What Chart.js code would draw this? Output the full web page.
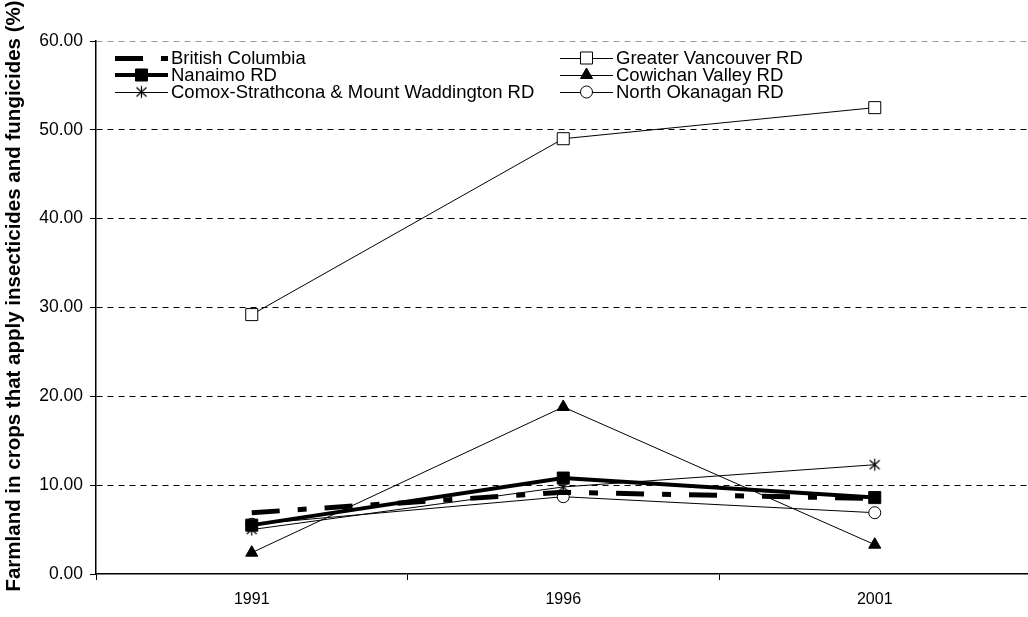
<!DOCTYPE html>
<html>
<head>
<meta charset="utf-8">
<script src="https://cdn.jsdelivr.net/npm/chart.js@4/dist/chart.umd.min.js"></script>
<style>
  html, body { margin: 0; padding: 0; background: #fff; overflow: hidden; }
  #wrap { width: 1040px; height: 617px; }
</style>
</head>
<body>
<div id="wrap"><canvas id="chart" width="1040" height="617"></canvas></div>
<script>
const years = ['1991', '1996', '2001']
const britishColumbia = [6.9, 9.2, 8.5]
const greaterVancouver = [29.2, 49.0, 52.5]
const nanaimo = [5.5, 10.8, 8.6]
const cowichanValley = [2.4, 18.8, 3.3]
const comoxStrathcona = [5.0, 9.8, 12.3]
const northOkanagan = [5.6, 8.7, 6.9]
const yTicks = [0, 10, 20, 30, 40, 50, 60]
const yTitle = 'Farmland in crops that apply insecticides and fungicides (%)'

const FONT = "'Liberation Sans', Arial, sans-serif"

// Excel style asterisk marker (x plus vertical bar)
function makeStar() {
  const c = document.createElement('canvas')
  c.width = 15; c.height = 15
  const g = c.getContext('2d')
  g.strokeStyle = '#000'
  g.lineWidth = 1.2
  g.beginPath()
  g.moveTo(2.5, 3); g.lineTo(12.5, 12)
  g.moveTo(12.5, 3); g.lineTo(2.5, 12)
  g.moveTo(7.5, 1.5); g.lineTo(7.5, 13.5)
  g.stroke()
  return c
}
const star = makeStar()

const thin = { borderColor: '#000', borderWidth: 1, pointBorderColor: '#000', pointBorderWidth: 1, tension: 0 }

const datasets = [
  { label: 'British Columbia', data: britishColumbia, borderColor: '#000', borderWidth: 5,
    borderDash: [28, 18, 9, 18], borderCapStyle: 'butt', pointRadius: 0, tension: 0 },
  { label: 'Greater Vancouver RD', data: greaterVancouver, ...thin,
    pointStyle: 'rect', pointRadius: 8.5, pointBackgroundColor: '#fff' },
  { label: 'Nanaimo RD', data: nanaimo, borderColor: '#000', borderWidth: 4, tension: 0,
    pointStyle: 'rect', pointRadius: 8.5, pointBackgroundColor: '#000', pointBorderColor: '#000', pointBorderWidth: 1 },
  { label: 'Cowichan Valley RD', data: cowichanValley, ...thin,
    pointStyle: 'triangle', pointRadius: 7, pointBackgroundColor: '#000' },
  { label: 'Comox-Strathcona & Mount Waddington RD', data: comoxStrathcona, ...thin,
    pointStyle: star, pointRadius: 7, pointBackgroundColor: '#000' },
  { label: 'North Okanagan RD', data: northOkanagan, ...thin,
    pointStyle: 'circle', pointRadius: 6, pointBackgroundColor: '#fff' },
]

// two column legend like the spreadsheet one
const legendPlugin = {
  id: 'sheetLegend',
  afterDatasetsDraw(chart) {
    const ctx = chart.ctx
    const cols = [115, 560]
    const rows = [58, 75, 92]
    const symW = 53
    chart.data.datasets.forEach((ds, i) => {
      const x = cols[i % 2]
      const y = rows[Math.floor(i / 2)]
      ctx.save()
      ctx.strokeStyle = ds.borderColor
      ctx.lineWidth = ds.borderWidth
      ctx.lineCap = 'butt'
      ctx.setLineDash(ds.borderDash || [])
      ctx.beginPath()
      ctx.moveTo(x, y + (ds.borderWidth % 2 ? 0.5 : 0))
      ctx.lineTo(x + symW, y + (ds.borderWidth % 2 ? 0.5 : 0))
      ctx.stroke()
      ctx.setLineDash([])
      if (ds.pointRadius > 0) {
        ctx.fillStyle = ds.pointBackgroundColor
        ctx.strokeStyle = ds.pointBorderColor
        ctx.lineWidth = ds.pointBorderWidth
        Chart.helpers.drawPoint(ctx, {
          pointStyle: ds.pointStyle, radius: ds.pointRadius, rotation: 0, borderWidth: ds.pointBorderWidth
        }, x + symW / 2, y)
      }
      ctx.fillStyle = '#000'
      ctx.font = '18.5px ' + FONT
      ctx.textBaseline = 'middle'
      ctx.textAlign = 'left'
      ctx.fillText(ds.label, x + symW + 3, y + 1)
      ctx.restore()
    })
  }
}

const yTitlePlugin = {
  id: 'yTitle',
  afterDraw(chart) {
    const ctx = chart.ctx
    ctx.save()
    ctx.translate(14, 296)
    ctx.rotate(-Math.PI / 2)
    ctx.font = 'bold 20.5px ' + FONT
    ctx.fillStyle = '#000'
    ctx.textAlign = 'center'
    ctx.textBaseline = 'middle'
    ctx.fillText(yTitle, 0, 0)
    ctx.restore()
  }
}

new Chart(document.getElementById('chart'), {
  type: 'line',
  data: { labels: years, datasets },
  plugins: [legendPlugin, yTitlePlugin],
  options: {
    responsive: false,
    animation: false,
    layout: { padding: { top: 41, right: 4, bottom: 0, left: 0 } },
    plugins: { legend: { display: false }, tooltip: { enabled: false } },
    scales: {
      x: {
        offset: true,
        afterFit: (s) => { s.height = 43 },
        grid: { offset: true, drawOnChartArea: false, drawTicks: true, tickLength: 6, tickColor: '#000', tickWidth: 1 },
        border: { color: '#000', width: 1.5 },
        ticks: { color: '#000', font: { size: 16, family: FONT }, padding: 10, maxRotation: 0 },
      },
      y: {
        min: yTicks[0],
        max: yTicks[yTicks.length - 1],
        afterFit: (s) => { s.width = 96 },
        afterBuildTicks: (s) => { s.ticks = yTicks.map(v => ({ value: v })) },
        grid: {
          color: (c) => c.tick && c.tick.value === 60 ? '#999' : (c.tick && c.tick.value === 0 ? 'rgba(0,0,0,0)' : '#000'),
          lineWidth: 1,
          tickLength: 6, tickColor: '#000', tickWidth: 1, tickBorderDash: [],
        },
        border: { color: '#000', width: 1.5, dash: [6, 5] },
        ticks: { color: '#000', font: { size: 17.5, family: FONT }, padding: 7,
          callback: (v) => Number(v).toFixed(2) },
      }
    }
  }
})
</script>
</body>
</html>
